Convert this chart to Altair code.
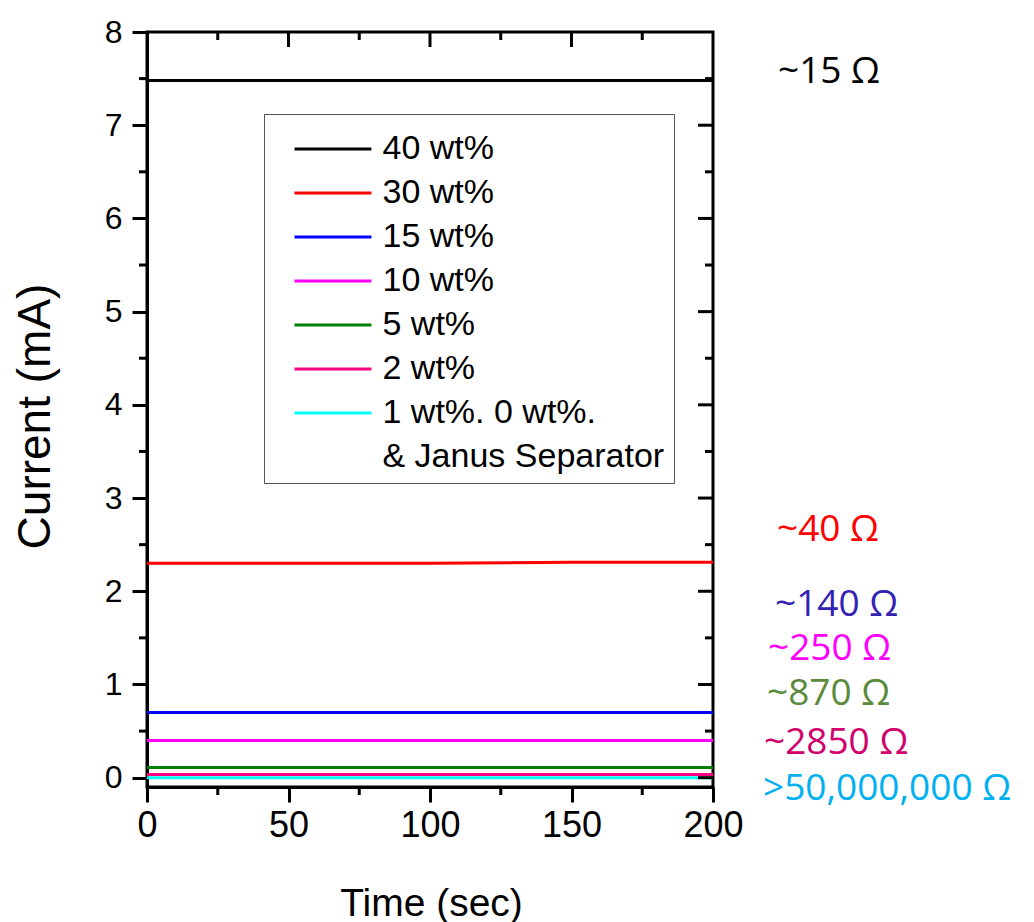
import altair as alt
import pandas as pd

# Current vs time for each separator composition
series = ["40 wt%", "30 wt%", "15 wt%", "10 wt%", "5 wt%", "2 wt%", "1 wt%. 0 wt%."]
times = [0, 50, 100, 150, 200]
current = {
    "40 wt%": [7.48, 7.48, 7.48, 7.48, 7.48],
    "30 wt%": [2.30, 2.30, 2.30, 2.31, 2.31],
    "15 wt%": [0.70, 0.70, 0.70, 0.70, 0.70],
    "10 wt%": [0.40, 0.40, 0.40, 0.40, 0.40],
    "5 wt%": [0.11, 0.11, 0.11, 0.11, 0.11],
    "2 wt%": [0.035, 0.035, 0.035, 0.035, 0.035],
    "1 wt%. 0 wt%.": [0.0, 0.0, 0.0, 0.0, 0.0],
}
line_colors = ["#000000", "#ff0000", "#0000ff", "#ff00ff", "#008000", "#ff0080", "#00ffff"]

# resistance annotations
res_labels = ["~15 Ω", "~40 Ω", "~140 Ω", "~250 Ω", "~870 Ω", "~2850 Ω", ">50,000,000 Ω"]
res_colors = ["#000000", "#ff0000", "#3322b5", "#ff00ff", "#5a8a3c", "#d1006b", "#00b0f0"]

# axis ticks
x_major = [0, 50, 100, 150, 200]
x_minor = [25, 75, 125, 175]
y_major = [0, 1, 2, 3, 4, 5, 6, 7, 8]
y_minor = [0.5, 1.5, 2.5, 3.5, 4.5, 5.5, 6.5, 7.5]

# continuation line of the last legend entry
extra_entry = "& Janus Separator"

W, H = 566, 755
FONT = "Liberation Sans"

rows = []
for s in series:
    for t, v in zip(times, current[s]):
        rows.append({"t": t, "I": v, "wt": s})
df = pd.DataFrame(rows)

xscale = alt.Scale(domain=[0, 200], nice=False, zero=False)
yscale = alt.Scale(domain=[-0.1, 8], nice=False, zero=False)

axis_style = dict(grid=False, domainColor="black", domainWidth=3, tickColor="black",
                  tickWidth=3, tickSize=15, labelFont=FONT, titleFont=FONT,
                  labelColor="black", titleColor="black", labelFlush=False,
                  titleFontWeight="normal")

x_axis = alt.Axis(values=x_major, title="Time (sec)", labelFontSize=36, labelPadding=6,
                  titleFontSize=39, titleX=284, titleY=128, titleBaseline="alphabetic",
                  **axis_style)
y_axis = alt.Axis(values=y_major, title="Current (mA)", labelFontSize=32, labelPadding=10,
                  titleFontSize=46, titleX=-112, titleY=384, titleBaseline="middle",
                  titleAngle=-90, **axis_style)

X = alt.X("t:Q", scale=xscale, axis=x_axis)
Y = alt.Y("I:Q", scale=yscale, axis=y_axis)

legend = alt.Legend(
    title="\u2007", titleFontSize=1, titlePadding=8,
    orient="none", legendX=117, legendY=82,
    symbolType="M-1,0H4.13", symbolSize=900, symbolStrokeWidth=3,
    symbolOffset=19.5, labelOffset=56, rowPadding=10, padding=9,
    labelFont=FONT, labelFontSize=34, labelColor="black", labelLimit=500,
    strokeColor="#555555",
)

lines = alt.Chart(df).mark_line(strokeWidth=3, clip=True).encode(
    x=X, y=Y,
    color=alt.Color("wt:N",
                    scale=alt.Scale(domain=series + [extra_entry],
                                    range=line_colors + ["rgba(0,0,0,0)"]),
                    legend=legend),
    order=alt.Order("t:Q"),
)

tick_style = dict(color="black", strokeWidth=3)

bottom_minor = alt.Chart(pd.DataFrame({"t": x_minor})).mark_rule(**tick_style).encode(
    x=X, y=alt.value(H), y2=alt.value(H + 8))
top_major = alt.Chart(pd.DataFrame({"t": x_major[1:-1]})).mark_rule(**tick_style).encode(
    x=X, y=alt.value(0), y2=alt.value(15))
top_minor = alt.Chart(pd.DataFrame({"t": x_minor})).mark_rule(**tick_style).encode(
    x=X, y=alt.value(0), y2=alt.value(8))
left_minor = alt.Chart(pd.DataFrame({"I": y_minor})).mark_rule(**tick_style).encode(
    y=Y, x=alt.value(0), x2=alt.value(-8))
right_major = alt.Chart(pd.DataFrame({"I": y_major[:-1]})).mark_rule(**tick_style).encode(
    y=Y, x=alt.value(W - 15), x2=alt.value(W))
right_minor = alt.Chart(pd.DataFrame({"I": y_minor})).mark_rule(**tick_style).encode(
    y=Y, x=alt.value(W - 8), x2=alt.value(W))

# annotation anchors (pixels, relative to the plot area)
ann_x = [631, 630, 628, 621, 620, 617, 616]
ann_y = [40, 498, 573, 617, 662, 711, 757]
notes = []
for lab, col, ax, ay in zip(res_labels, res_colors, ann_x, ann_y):
    notes.append(
        alt.Chart(pd.DataFrame({"label": [lab]})).mark_text(
            font="Open Sans", fontSize=37, align="left", baseline="middle", color=col
        ).encode(text="label:N", x=alt.value(ax), y=alt.value(ay))
    )

chart = alt.layer(
    lines, bottom_minor, top_major, top_minor, left_minor, right_major, right_minor, *notes
).properties(
    width=W, height=H,
    background="white",
    autosize=alt.AutoSizeParams(type="none"),
    padding={"left": 147, "top": 32, "right": 321, "bottom": 135},
).configure_view(
    stroke="black", strokeWidth=3
)

chart.save("out.html", embed_options={"renderer": "svg", "actions": False})
